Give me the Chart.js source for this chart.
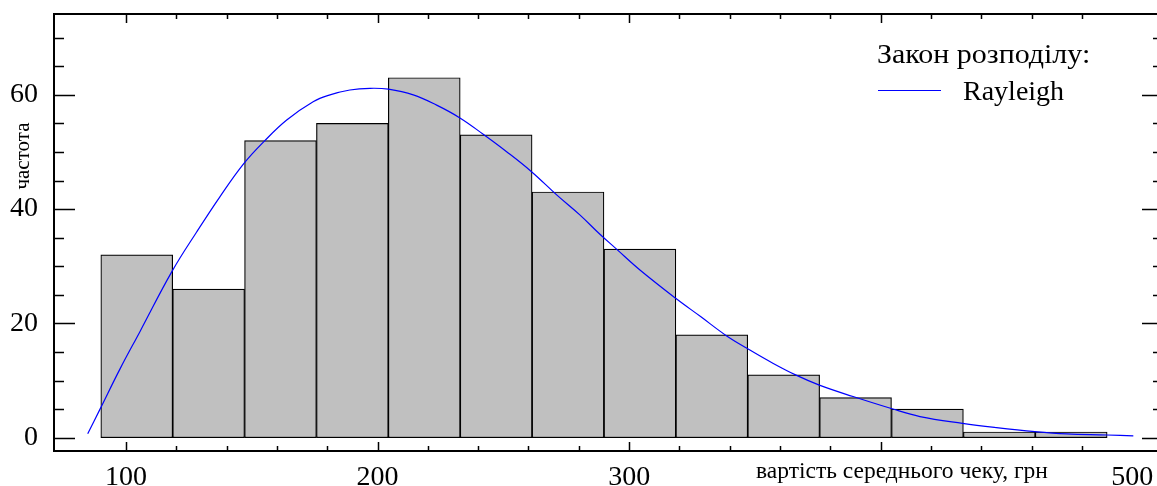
<!DOCTYPE html>
<html>
<head>
<meta charset="utf-8">
<script src="https://cdn.jsdelivr.net/npm/chart.js@4.4.0/dist/chart.umd.min.js"></script>
<style>
html,body{margin:0;padding:0;background:#fff;overflow:hidden}
#wrap{width:1175px;height:486px;position:relative}
</style>
</head>
<body>
<div id="wrap"><canvas id="c"></canvas></div>
<script>
'use strict';
// histogram bins (centres of 14 equal bins from 90 to 490)
let binCenters=[104.29,132.86,161.43,190.0,218.57,247.14,275.71,304.29,332.86,361.43,390.0,418.57,447.14,475.71];
let binCounts=[32,26,52,55,63,53,43,33,18,11,7,5,1,1];
// fitted Rayleigh curve
let curveX=[84.8,89.7,97.6,105.6,118.3,128.1,137.4,146.9,155.0,163.9,174.4,181.1,189,197,204.3,214.2,223.5,232.6,242,251.3,261.2,271.2,280.4,288.4,295,304.3,318.5,328.4,338.5,347,357.3,366.6,375.6,389,404.2,415.6,432.5,446,461.3,473.9,489.9,500.4];
let curveY=[0.7,5.0,12.0,18.6,29.1,36.0,42.2,48.0,51.9,55.6,58.8,60.0,60.85,61.15,61.0,60.0,58.2,56.0,53.1,50.05,46.55,42.5,39.0,35.6,33.0,29.35,24.4,21.2,17.9,15.6,13.0,10.9,9.2,7.2,5.1,3.7,2.5,1.75,1.05,0.65,0.47,0.3];
// ticks
let xTickValues=[100,200,300,400,500];
let xTickLabels=['100','200','300','','500'];
let yTickValues=[0,20,40,60];
let yTickLabels=['0','20','40','60'];
let xTitle='вартість середнього чеку, грн';
let yTitle='частота';
let legendTitle='Закон розподілу:';
let curveName='Rayleigh';

const serif='"Liberation Serif","DejaVu Serif",serif';

function noPad(s){s.paddingTop=0;s.paddingBottom=0;s.paddingLeft=0;s.paddingRight=0;}

// frame, inward ticks, titles, legend
const decor={
  id:'decor',
  afterDatasetsDraw(chart){
    const ctx=chart.ctx;
    const a=chart.chartArea;
    const x=chart.scales.x, y=chart.scales.y;
    ctx.save();
    ctx.strokeStyle='#000';
    ctx.lineWidth=2;
    ctx.strokeRect(a.left,a.top,a.right-a.left,a.bottom-a.top);
    ctx.lineWidth=1.5;
    ctx.beginPath();
    for(let v=100;v<=480;v+=20){
      let px=Math.round(x.getPixelForValue(v))+0.5;
      let len=(v%100===0)?9:5;
      ctx.moveTo(px,a.bottom);ctx.lineTo(px,a.bottom-len);
      ctx.moveTo(px,a.top);ctx.lineTo(px,a.top+len);
    }
    for(let v=0;v<=70;v+=5){
      let py=Math.round(y.getPixelForValue(v))+0.5;
      let len=(v%20===0)?21:10;
      ctx.moveTo(a.left,py);ctx.lineTo(a.left+len,py);
      ctx.moveTo(a.right,py);ctx.lineTo(a.right-len,py);
    }
    ctx.stroke();

    ctx.fillStyle='#000';
    ctx.font='23.5px '+serif;
    ctx.textAlign='center';
    ctx.textBaseline='middle';
    ctx.fillText(xTitle,902,472);
    ctx.save();
    ctx.translate(23,156);
    ctx.rotate(-Math.PI/2);
    ctx.font='21px '+serif;
    ctx.fillText(yTitle,0,0);
    ctx.restore();

    // legend
    ctx.font='28px '+serif;
    ctx.textAlign='left';
    ctx.textBaseline='alphabetic';
    ctx.save();
    ctx.translate(877,63);
    ctx.scale(1.07,1);
    ctx.fillText(legendTitle,0,0);
    ctx.restore();
    ctx.fillText(curveName,963,100);
    ctx.strokeStyle='#0000ff';
    ctx.lineWidth=1.2;
    ctx.beginPath();
    ctx.moveTo(878,90.5);ctx.lineTo(941,90.5);
    ctx.stroke();
    ctx.restore();
  }
};

let ctx=document.getElementById('c').getContext('2d');
let myChart=new Chart(ctx,{
  type:'bar',
  data:{
    datasets:[{
      type:'line',
      label:curveName,
      data:curveX.map((v,i)=>({x:v,y:curveY[i]})),
      borderColor:'#0000ff',
      borderWidth:1.2,
      pointRadius:0,
      tension:0.4,
      fill:false,
      order:0
    },{
      type:'bar',
      label:'частота',
      data:binCenters.map((v,i)=>({x:v,y:binCounts[i]})),
      backgroundColor:'#c0c0c0',
      borderColor:'#000',
      borderWidth:1.2,
      borderSkipped:false,
      barPercentage:1,
      categoryPercentage:1,
      order:1
    }]
  },
  options:{
    responsive:true,
    maintainAspectRatio:false,
    animation:false,
    devicePixelRatio:1,
    layout:{padding:{left:0,top:14,right:12,bottom:0}},
    plugins:{legend:{display:false},tooltip:{enabled:false}},
    scales:{
      x:{
        type:'linear',
        offset:false,
        min:71.4,
        max:512.2,
        afterFit:s=>{s.height=35;noPad(s);},
        afterBuildTicks:s=>{s.ticks=xTickValues.map(v=>({value:v}));},
        grid:{display:false,drawTicks:false,offset:false},
        border:{display:false},
        ticks:{
          autoSkip:false,maxRotation:0,padding:10,color:'#000',
          font:{family:serif,size:28},
          callback:(v)=>{let i=xTickValues.indexOf(v);return i<0?'':xTickLabels[i];}
        }
      },
      y:{
        min:-2.33,
        max:74.15,
        afterFit:s=>{s.width=54;noPad(s);},
        afterBuildTicks:s=>{s.ticks=yTickValues.map(v=>({value:v}));},
        grid:{display:false,drawTicks:false},
        border:{display:false},
        ticks:{
          padding:16,color:'#000',
          font:{family:serif,size:28},
          callback:(v)=>{let i=yTickValues.indexOf(v);return i<0?'':yTickLabels[i];}
        }
      }
    }
  },
  plugins:[decor]
});
</script>
</body>
</html>
